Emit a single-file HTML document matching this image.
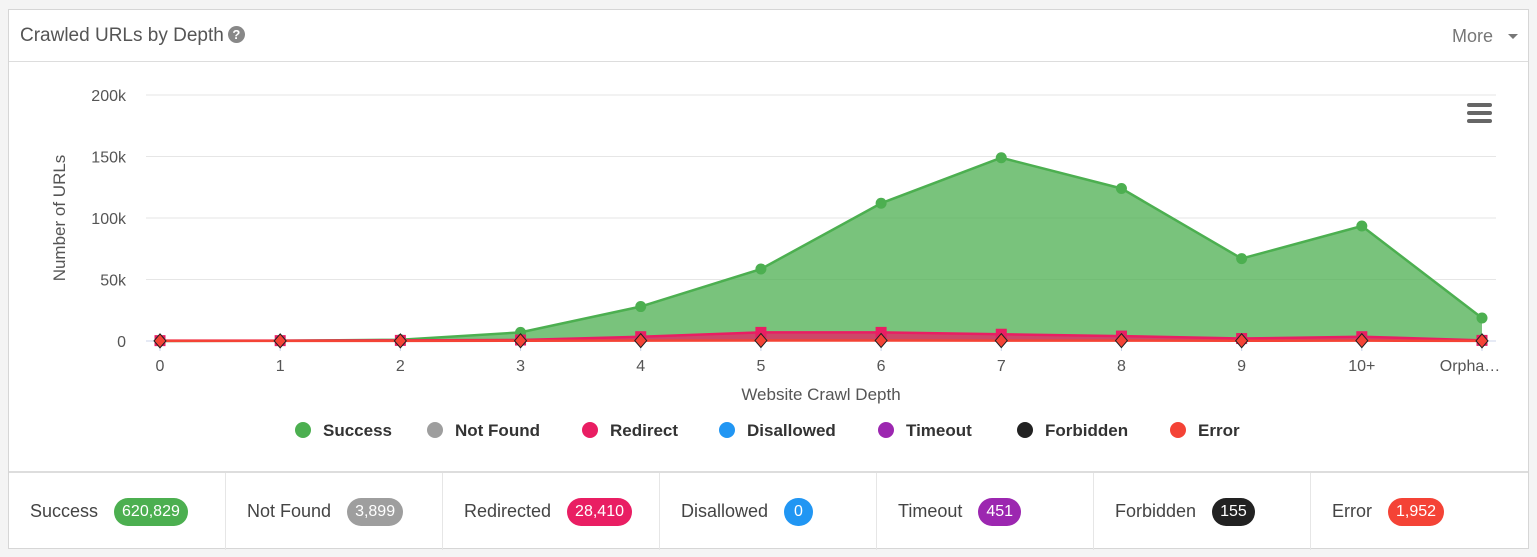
<!DOCTYPE html>
<html><head><meta charset="utf-8"><style>
body{margin:0;width:1537px;height:557px;background:#f4f4f4;font-family:"Liberation Sans",sans-serif;position:relative;overflow:hidden}
.panel{position:absolute;left:8px;top:9px;width:1519px;height:538px;background:#fff;border:1px solid #d6d6d6}
.hdr{position:absolute;left:0;top:0;width:1519px;height:51px;border-bottom:1px solid #ddd}
.title{position:absolute;left:11px;top:15px;font-size:19px;color:#555}
.q{display:inline-block;width:17px;height:17px;border-radius:50%;background:#888;color:#fff;font-size:13px;font-weight:bold;text-align:center;line-height:17px;vertical-align:2px;margin-left:4px}
.more{position:absolute;right:35px;top:16px;font-size:18px;color:#777}
.caret{position:absolute;right:10px;top:24px;border-left:5px solid transparent;border-right:5px solid transparent;border-top:5px solid #777}
.foot{position:absolute;left:0;top:461px;width:1519px;height:77px;border-top:2px solid #ddd;display:flex}
.cell{width:217px;border-right:1px solid #e6e6e6;display:flex;align-items:center;padding-left:21px;box-sizing:border-box;font-size:18px;color:#444}
.cell:last-child{border-right:none}
.badge{margin-left:16px;color:#fff;border-radius:15px;padding:5px 8px;font-size:16px}
</style></head><body>
<div class="panel">
 <div class="hdr">
  <div class="title">Crawled URLs by Depth<span class="q">?</span></div>
  <div class="more">More</div><div class="caret"></div>
 </div>
 <div class="foot">
  <div class="cell">Success<span class="badge" style="background:#4caf50">620,829</span></div>
  <div class="cell">Not Found<span class="badge" style="background:#9e9e9e">3,899</span></div>
  <div class="cell">Redirected<span class="badge" style="background:#e91e63">28,410</span></div>
  <div class="cell">Disallowed<span class="badge" style="background:#2196f3;padding:5px 10px">0</span></div>
  <div class="cell">Timeout<span class="badge" style="background:#9c27b0">451</span></div>
  <div class="cell">Forbidden<span class="badge" style="background:#222">155</span></div>
  <div class="cell">Error<span class="badge" style="background:#f44336">1,952</span></div>
 </div>
</div>
<svg id="chart" width="1537" height="557" style="position:absolute;left:0;top:0">
 <g fill="#666"><rect x="1467" y="103" width="25" height="4" rx="2"/><rect x="1467" y="111" width="25" height="4" rx="2"/><rect x="1467" y="119" width="25" height="4" rx="2"/></g>
</svg>
<script>
const categories=["0","1","2","3","4","5","6","7","8","9","10+","Orpha…"];
const yTicks=[0,50000,100000,150000,200000];
const yTickLabels=["0","50k","100k","150k","200k"];
const success=[0,200,1000,7000,28000,58500,112000,149000,124000,67000,93500,18700];
const redirect=[300,300,500,800,3500,7000,7000,5500,4000,2000,3500,500];
const errorS=[100,100,100,200,300,400,400,300,300,200,300,100];
const svg=document.getElementById('chart');
const NS='http://www.w3.org/2000/svg';
const x0=160,x1=1482,yBase=341,yTop=95,yMax=200000;
const X=i=>x0+i*(x1-x0)/(categories.length-1);
const Y=v=>yBase-(v/yMax)*(yBase-yTop);
function mk(t,a){const e=document.createElementNS(NS,t);for(const k in a)e.setAttribute(k,a[k]);svg.appendChild(e);return e;}
yTicks.forEach((t,i)=>{
 const g=mk('line',{x1:146,x2:1496,y1:Y(t),y2:Y(t),stroke:i==0?'#ccd6eb':'#e6e6e6'});
 
 
 const l=mk('text',{x:126,y:Y(t)+6,'text-anchor':'end','font-size':16,fill:'#555','font-family':'Liberation Sans'});
 l.textContent=yTickLabels[i];
 
 
});
categories.forEach((c,i)=>{
 const t=mk('line',{x1:X(i),x2:X(i),y1:yBase,y2:yBase+10,stroke:'#ccd6eb'});
 
 
 const l=mk('text',{x:X(i)+(i==categories.length-1?-12:0),y:yBase+30,'text-anchor':'middle','font-size':16,fill:'#555','font-family':'Liberation Sans'});
 l.textContent=c;
 
 
});
const yt=mk('text',{x:0,y:0,transform:'translate(65,218) rotate(-90)','text-anchor':'middle','font-size':17,fill:'#555','font-family':'Liberation Sans'});
yt.textContent='Number of URLs';


const xt=mk('text',{x:821,y:400,'text-anchor':'middle','font-size':17,fill:'#555','font-family':'Liberation Sans'});
xt.textContent='Website Crawl Depth';


function series(vals,color,fillOp,name){
 const pts=vals.map((v,i)=>X(i)+','+Y(v)).join(' ');
 const a=mk('polygon',{points:X(0)+','+yBase+' '+pts+' '+X(vals.length-1)+','+yBase,fill:color,'fill-opacity':fillOp});
 
 
 const l=mk('polyline',{points:pts,fill:'none',stroke:color,'stroke-width':2.5});
 
 
}
series(success,'#4caf50',0.75,'success');
series(redirect,'#e91e63',0.75,'redirect');
series(errorS,'#f44336',0.75,'error');
success.forEach((v,i)=>{const m=mk('circle',{cx:X(i),cy:Y(v),r:5.5,fill:'#4caf50'});
 
 });
redirect.forEach((v,i)=>{const m=mk('rect',{x:X(i)-5.5,y:Y(v)-5.5,width:11,height:11,fill:'#e91e63'});
 
 });
errorS.forEach((v,i)=>{const cx=X(i),cy=Y(v);const m=mk('polygon',{points:`${cx},${cy-7} ${cx+6},${cy} ${cx},${cy+7} ${cx-6},${cy}`,fill:'#f44336',stroke:'#222','stroke-width':1});
 
 });
const legend=[["Success","#4caf50",303],["Not Found","#9e9e9e",435],["Redirect","#e91e63",590],["Disallowed","#2196f3",727],["Timeout","#9c27b0",886],["Forbidden","#222",1025],["Error","#f44336",1178]];
legend.forEach(([n,c,lx])=>{
 const d=mk('circle',{cx:lx,cy:430,r:8,fill:c});
 
 
 const t=mk('text',{x:lx+20,y:436,'font-size':17,'font-weight':'bold',fill:'#333','font-family':'Liberation Sans'});
 t.textContent=n;
 
 
});
</script>
</body></html>
